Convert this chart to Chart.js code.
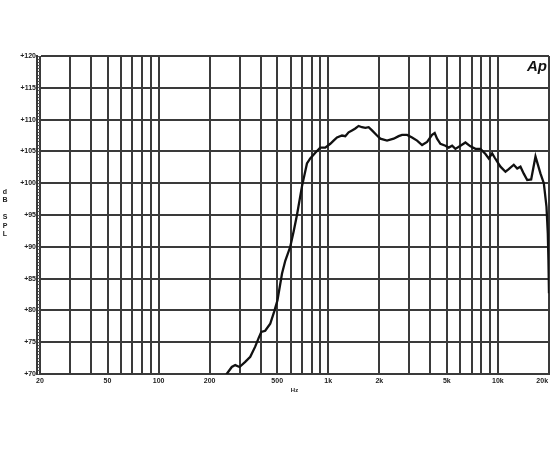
<!DOCTYPE html>
<html><head><meta charset="utf-8">
<script src="https://cdn.jsdelivr.net/npm/chart.js@4/dist/chart.umd.min.js"></script>
<style>html,body{margin:0;padding:0;background:#fff}</style>
</head><body>
<canvas id="c" width="550" height="450"></canvas>
<script>
// ---- data ----
const freqHz = [245,255,270,283,300,324,347,371,388,403,425,455,480,502,534,558,597,626,654,700,749,783,839,897,960,1028,1075,1126,1205,1260,1318,1380,1444,1510,1581,1654,1730,1811,1938,2027,2220,2429,2600,2722,2914,3118,3338,3573,3824,4092,4240,4378,4582,4904,5128,5370,5616,6012,6434,6888,7372,7888,8442,8830,9246,9578,10350,11080,11580,12400,12990,13580,14200,14880,15700,16650,17820,18640,19330,19680,19850,20000];
const splDb  = [69.5,70.2,71.1,71.4,71.1,71.9,72.7,74.3,75.6,76.6,76.8,77.9,79.8,81.6,85.8,87.8,90,92.5,95,99.5,103.1,103.9,104.8,105.6,105.6,106.2,106.7,107.2,107.5,107.4,108,108.3,108.6,109,108.8,108.7,108.8,108.3,107.5,107,106.7,107,107.4,107.6,107.6,107.2,106.7,106,106.5,107.6,107.9,107,106.2,105.9,105.6,105.9,105.4,105.9,106.4,105.8,105.4,105.4,104.6,103.9,104.7,104,102.6,101.8,102.2,102.9,102.3,102.6,101.5,100.5,100.6,104.2,101.5,100,96.3,92.1,87.9,82.7];
const gridFreqs = [20,30,40,50,60,70,80,90,100,200,300,400,500,600,700,800,900,1000,2000,3000,4000,5000,6000,7000,8000,9000,10000,20000];
const labeledFreqs = [20,50,100,200,500,1000,2000,5000,10000,20000];
const freqLabels = ['20','50','100','200','500','1k','2k','5k','10k','20k       '];
const yMin = 70, yMax = 120, yStep = 5, yMinorStep = 0.5;
const yLabelPrefix = '+';
const yAxisLetters = ['d','B','','S','P','L'];
const xAxisTitle = 'Hz';
const logoText = 'Ap';

const gridColor = '#3a3a3a';
const tickFont = {family:'Liberation Sans', size:7, weight:'bold'};

const overlay = {
  id:'overlay',
  afterDraw(chart){
    const ctx = chart.ctx, a = chart.chartArea;
    ctx.save();
    ctx.fillStyle = '#222';
    ctx.font = 'bold 7px "Liberation Sans"';
    ctx.textAlign = 'center';
    ctx.textBaseline = 'middle';
    const yc = (a.top + a.bottom)/2 - 2;
    const step = 8.5;
    yAxisLetters.forEach((l,i)=>{
      ctx.fillText(l, 5, yc - step*2.5 + i*step);
    });
    ctx.font = 'italic bold 15px "Liberation Sans"';
    ctx.textAlign = 'right';
    ctx.textBaseline = 'top';
    ctx.fillStyle = '#111';
    ctx.fillText(logoText, a.right - 2, a.top + 3);
    ctx.restore();
  }
};

new Chart(document.getElementById('c'), {
  type:'line',
  data:{
    datasets:[{
      data: freqHz.map((f,i)=>({x:f, y:splDb[i]})),
      borderColor:'#111',
      borderWidth:2.3,
      pointRadius:0,
      tension:0,
      fill:false
    }]
  },
  options:{
    responsive:false,
    animation:false,
    events:[],
    layout:{padding:{top:56,right:1,bottom:56,left:0}},
    plugins:{legend:{display:false},tooltip:{enabled:false}},
    scales:{
      x:{
        type:'logarithmic',
        min:20, max:20000,
        afterBuildTicks(scale){ scale.ticks = gridFreqs.map(v=>({value:v})); },
        afterFit(scale){ scale.height = 20; scale.paddingLeft = 0; scale.paddingRight = 0; },
        ticks:{
          autoSkip:false, maxRotation:0, minRotation:0,
          font:tickFont, color:'#222', padding:3,
          callback(value){ const i = labeledFreqs.indexOf(value); return i>=0 ? freqLabels[i] : ''; }
        },
        grid:{color:gridColor, lineWidth:2, drawTicks:false},
        border:{color:gridColor, width:2},
        title:{display:true, text:xAxisTitle, font:{family:'Liberation Sans', size:6, weight:'bold'}, color:'#222', padding:{top:1,bottom:0}}
      },
      yMinor:{
        type:'linear', position:'left', weight:0,
        min:yMin, max:yMax,
        afterFit(scale){ scale.width = 3; },
        ticks:{display:false, stepSize:yMinorStep, autoSkip:false},
        grid:{drawOnChartArea:false, drawTicks:true, tickLength:3, color:'#555', lineWidth:1},
        border:{display:false}
      },
      y:{
        type:'linear', position:'left', weight:1,
        min:yMin, max:yMax,
        afterFit(scale){ scale.width = 37; },
        ticks:{stepSize:yStep, font:tickFont, color:'#222', padding:1,
          callback(v){ return yLabelPrefix + v; }},
        grid:{color:gridColor, lineWidth:2, drawTicks:false},
        border:{color:gridColor, width:2}
      }
    }
  },
  plugins:[overlay]
});
</script>
</body></html>
